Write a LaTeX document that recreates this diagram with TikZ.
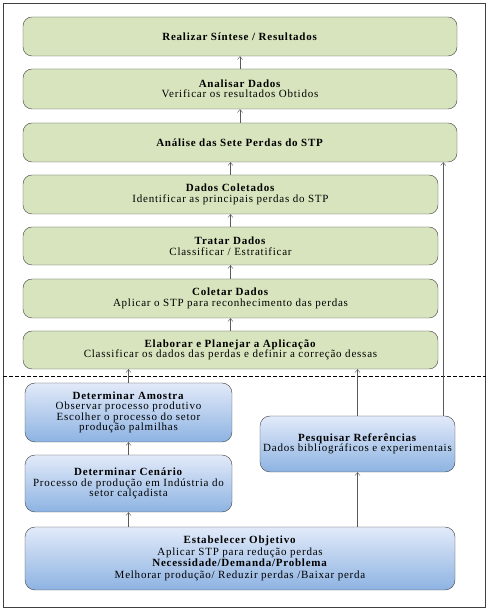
\documentclass[tikz,border=0pt]{standalone}
\usepackage{fontspec}
\setmainfont{Liberation Serif}[LetterSpace=7]
\usepackage{tikz}
\usetikzlibrary{arrows.meta, positioning, calc}
\definecolor{StepGreen}{RGB}{215, 228, 189}
\definecolor{StepBlueTop}{RGB}{226, 234, 249}
\definecolor{StepBlueBot}{RGB}{141, 179, 226}
\definecolor{EdgeGray}{RGB}{64, 64, 64}
\definecolor{LineGray}{RGB}{90, 90, 90}

\begin{document}
\begin{tikzpicture}[x=1pt, y=1pt,
        font=\fontsize{11}{10.5}\selectfont,
        greenbox/.style={draw=EdgeGray, fill=StepGreen, rounded corners=9pt, align=center, inner sep=0pt},
        bluebox/.style={draw=EdgeGray, top color=StepBlueTop, bottom color=StepBlueBot, rounded corners=10pt, align=center, inner sep=0pt},
        arr/.style={draw=LineGray, -{Straight Barb[length=3pt, width=5pt]}}]
        % Frame
        \useasboundingbox (0,0) rectangle (490,613);
        \fill[white] (0,0) rectangle (490,613);
        \draw[EdgeGray] (3,6) rectangle (485,610);

        % Upper steps
        \node[greenbox, minimum width=434, minimum height=39] (sintese) at (240,576.5) {\textbf{Realizar Síntese / Resultados}};
        \node[greenbox, minimum width=434, minimum height=40] (analisar) at (240,524) {\textbf{Analisar Dados}\\Verificar os resultados Obtidos};
        \node[greenbox, minimum width=434, minimum height=39] (perdas) at (240,470.5) {\textbf{Análise das Sete Perdas do STP}};
        \node[greenbox, minimum width=415, minimum height=39] (coletados) at (230.5,418.5) {\textbf{Dados Coletados}\\Identificar as principais  perdas do STP};
        \node[greenbox, minimum width=415, minimum height=38] (tratar) at (230.5,367) {\textbf{Tratar Dados}\\Classificar / Estratificar};
        \node[greenbox, minimum width=415, minimum height=39] (coletar) at (230.5,314.5) {\textbf{Coletar Dados}\\Aplicar o STP para reconhecimento das perdas};
        \node[greenbox, minimum width=415, minimum height=38] (elaborar) at (230.5,263) {\textbf{Elaborar e Planejar a Aplicação}\\Classificar os dados das perdas e definir  a correção dessas};

        % Separator
        \draw[dashed, dash pattern=on 4pt off 2pt] (3,237) -- (486,237);

        % Lower steps
        \node[bluebox, minimum width=207, minimum height=59] (amostra) at (128.5,200.5) {\textbf{Determinar Amostra}\\Observar processo produtivo\\Escolher o processo do setor\\produção palmilhas};
        \node[bluebox, minimum width=207, minimum height=57] (cenario) at (128.5,129.5) {\textbf{Determinar Cenário}\\Processo de produção em Indústria  do\\setor calçadista};
        \node[bluebox, minimum width=195, minimum height=56] (pesquisar) at (357.5,169) {\textbf{Pesquisar Referências}\\Dados bibliográficos  e experimentais};
        \node[bluebox, minimum width=430, minimum height=63] (objetivo) at (240,54.5) {\textbf{Estabelecer Objetivo}\\[1pt]Aplicar STP para redução perdas\\[1pt]\textbf{Necessidade/Demanda/Problema}\\[1pt]Melhorar produção/  Reduzir perdas /Baixar perda};

        % Arrows
        \draw[arr] (analisar) -- (sintese);
        \draw[arr] (perdas) -- (analisar);
        \draw[arr] (coletados.north) -- (coletados.north |- perdas.south);
        \draw[arr] (tratar) -- (coletados);
        \draw[arr] (coletar) -- (tratar);
        \draw[arr] (elaborar) -- (coletar);
        \draw[arr] (amostra.north) -- (amostra.north |- elaborar.south);
        \draw[arr] (cenario) -- (amostra);
        \draw[arr] (cenario.south |- objetivo.north) -- (cenario.south);
        \draw[arr] (pesquisar.south |- objetivo.north) -- (pesquisar.south);
        \draw[arr] (pesquisar.north) -- (pesquisar.north |- elaborar.south);
        \draw[arr] ([xshift=-12pt]pesquisar.north east) -- ([xshift=-12pt]pesquisar.north east |- perdas.south);
    \end{tikzpicture}
\end{document}
